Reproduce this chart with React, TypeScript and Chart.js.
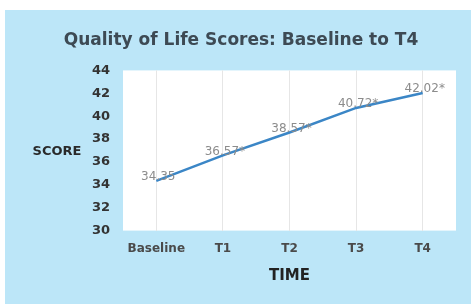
import React, { useEffect, useRef } from "react";
import { Chart, registerables } from "chart.js";

Chart.register(...registerables);

const categories = ["Baseline", "T1", "T2", "T3", "T4"];
const scores = [34.35, 36.57, 38.57, 40.72, 42.02];
const pointLabels = ["34.35", "36.57*", "38.57*", "40.72*", "42.02*"];
const yMin = 30;
const yMax = 44;
const yStep = 2;

const FONT = "'DejaVu Sans', sans-serif";

const plotBg = {
  id: "plotBg",
  beforeDraw(chart: any) {
    const { ctx, chartArea } = chart;
    ctx.save();
    ctx.fillStyle = "#ffffff";
    ctx.fillRect(chartArea.left, chartArea.top, chartArea.right - chartArea.left, chartArea.bottom - chartArea.top);
    ctx.restore();
  },
};

const extras = {
  id: "extras",
  afterDatasetsDraw(chart: any) {
    const { ctx, chartArea } = chart;
    const meta = chart.getDatasetMeta(0);
    ctx.save();
    ctx.font = `12px ${FONT}`;
    ctx.fillStyle = "#8c8c8c";
    ctx.textAlign = "center";
    ctx.textBaseline = "middle";
    meta.data.forEach((pt: any, i: number) => {
      ctx.fillText(pointLabels[i], pt.x + 2, pt.y - 4);
    });
    ctx.font = `bold 13px ${FONT}`;
    ctx.fillStyle = "#2a2a2a";
    ctx.fillText("SCORE", 52, (chartArea.top + chartArea.bottom) / 2 + 1);
    ctx.restore();
  },
};

export default function App() {
  const ref = useRef<HTMLCanvasElement>(null);
  useEffect(() => {
    if (!ref.current) return;
    const chart = new Chart(ref.current, {
      type: "line",
      data: {
        labels: categories,
        datasets: [
          {
            data: scores,
            borderColor: "#3b86c6",
            borderWidth: 2.5,
            pointRadius: 0,
            tension: 0,
            fill: false,
            yAxisID: "y",
          },
        ],
      },
      options: {
        responsive: false,
        animation: false,
        layout: { padding: { left: 6, right: 0, top: 0, bottom: 0 } },
        plugins: {
          legend: { display: false },
          tooltip: { enabled: false },
          title: {
            display: true,
            text: "Quality of Life Scores: Baseline to T4",
            font: { family: FONT, size: 17, weight: "bold" },
            color: "#3d4a54",
            padding: { top: 20, bottom: 20 },
          },
        },
        scales: {
          x: {
            offset: true,
            grid: { display: true, color: "#e6e6e6", offset: false, drawTicks: false },
            border: { display: false },
            ticks: { font: { family: FONT, size: 12, weight: "bold" }, color: "#4a4a4a", padding: 11 },
            title: {
              display: true,
              text: "TIME",
              font: { family: FONT, size: 15, weight: "bold" },
              color: "#222222",
              padding: { top: 0, bottom: 19 },
            },
          },
          y: {
            min: yMin,
            max: yMax,
            grid: { display: false, drawTicks: false },
            border: { display: false },
            ticks: {
              stepSize: yStep,
              font: { family: FONT, size: 13, weight: "bold" },
              color: "#333333",
              padding: 13,
            },
            afterFit(scale: any) {
              scale.width = 112;
            },
          },
          yRight: {
            position: "right",
            display: true,
            grid: { display: false, drawTicks: false },
            border: { display: false },
            ticks: { display: false },
            afterFit(scale: any) {
              scale.width = 15;
            },
          },
        },
      },
      plugins: [plotBg, extras],
    });
    return () => chart.destroy();
  }, []);
  return (
    <div style={{ position: "fixed", left: 0, top: 0, width: 471, height: 304, background: "#ffffff" }}>
      <div style={{ position: "absolute", left: 5, top: 10, width: 466, height: 294, background: "#bce6f8" }}>
        <canvas ref={ref} width={466} height={294} style={{ display: "block" }} />
      </div>
    </div>
  );
}
